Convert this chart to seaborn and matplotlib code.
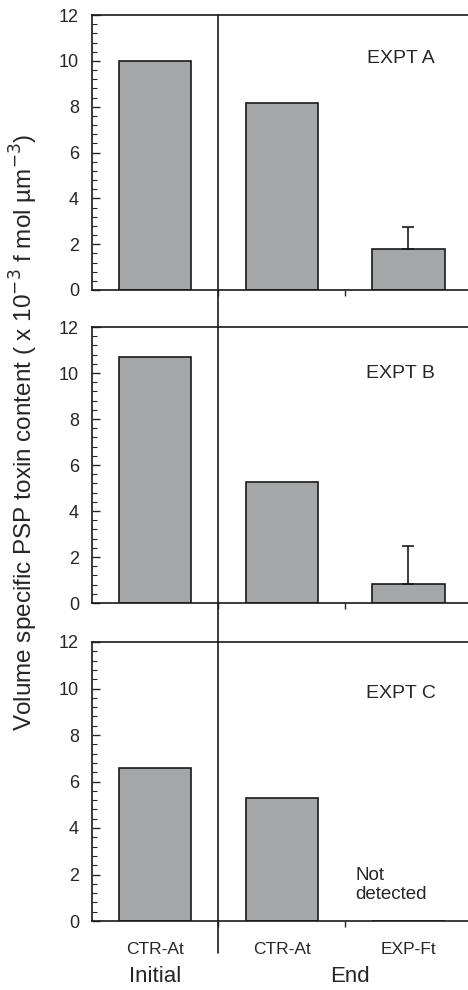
import numpy as np
import pandas as pd
import matplotlib
matplotlib.use('Agg')
import matplotlib.pyplot as plt
from matplotlib.ticker import MultipleLocator
from matplotlib.lines import Line2D
import seaborn as sns

# Data
groups = ['Initial CTR-At', 'End CTR-At', 'End EXP-Ft']
tick_labels = ['CTR-At', 'CTR-At', 'EXP-Ft']
expt_names = ['EXPT A', 'EXPT B', 'EXPT C']
expt_a = [10.0, 8.17, 1.79]
expt_b = [10.7, 5.26, 0.83]
expt_c = [6.58, 5.29, 0.0]
err_a = [0.0, 0.0, 0.96]
err_b = [0.0, 0.0, 1.65]
err_c = [0.0, 0.0, 0.0]

sns.set_style('ticks')
plt.rcParams['font.family'] = ['Liberation Sans', 'DejaVu Sans']
plt.rcParams['axes.linewidth'] = 1.2

bar_color = '#a4a6a8'
fig = plt.figure(figsize=(4.68, 9.9), dpi=100)

# panel positions (figure fraction)
left, right = 91.5 / 468, 1.0
panel_px = [(15, 290), (327, 603), (642, 921)]

axes = []
for i, (vals, errs, name) in enumerate(zip([expt_a, expt_b, expt_c],
                                           [err_a, err_b, err_c], expt_names)):
    top, bot = panel_px[i]
    ax = fig.add_axes([left, 1 - bot / 990, right - left, (bot - top) / 990])
    df = pd.DataFrame({'group': groups, 'value': vals})
    sns.barplot(data=df, x='group', y='value', order=groups, color=bar_color,
                saturation=1, edgecolor='#1a1a1a', linewidth=1.2, width=0.57,
                errorbar=None, ax=ax)
    for x, (v, e) in enumerate(zip(vals, errs)):
        if e > 0:
            ax.errorbar(x, v, yerr=[[0], [e]], fmt='none', ecolor='#1a1a1a',
                        elinewidth=1.2, capsize=4, capthick=1.2)
    ax.set_xlim(-0.5, 2.47)
    ax.set_ylim(0, 12)
    ax.yaxis.set_major_locator(MultipleLocator(2))
    ax.yaxis.set_minor_locator(MultipleLocator(0.4))
    ax.tick_params(axis='y', which='major', direction='in', length=6, width=1,
                   labelsize=13, pad=9)
    ax.tick_params(axis='y', which='minor', direction='in', length=3.5, width=0.8)
    ax.set_xticks([0, 1, 2])
    ax.set_xticks([0.5, 1.5], minor=True)
    ax.tick_params(axis='x', which='minor', direction='out', length=4, width=1)
    ax.tick_params(axis='x', which='major', length=0, labelsize=12.5, pad=15)
    ax.set_xticklabels(tick_labels if i == 2 else [])
    ax.set_xlabel('')
    ax.set_ylabel('')
    ax.spines['right'].set_visible(False)
    for s in ['left', 'top', 'bottom']:
        ax.spines[s].set_color('#1a1a1a')
    ax.text(1.94, [10.1, 10.0, 9.8][i], name, ha='center', va='center', fontsize=14)
    axes.append(ax)

ax_c = axes[2]
ax_c.text(1.58, 1.55, 'Not\ndetected', ha='left', va='center', fontsize=13.5,
          linespacing=1.1)
ax_c.text(0, -0.2, 'Initial', transform=ax_c.get_xaxis_transform(),
          ha='center', va='center', fontsize=16)
ax_c.text(1.54, -0.2, 'End', transform=ax_c.get_xaxis_transform(),
          ha='center', va='center', fontsize=16)

# vertical divider between Initial and End, running through all panels
inv = fig.transFigure.inverted()
x_div = inv.transform(axes[0].transData.transform((0.5, 0)))[0]
fig.add_artist(Line2D([x_div, x_div], [1 - 15 / 990, 1 - 953 / 990],
                      transform=fig.transFigure, color='#1a1a1a', linewidth=1.2))

fig.text(0.052, 1 - 432 / 990,
         'Volume specific PSP toxin content ( x 10$^{-3}$ f mol µm$^{-3}$)',
         rotation=90, ha='center', va='center', fontsize=17.5)

fig.savefig('out.png', dpi=100)
